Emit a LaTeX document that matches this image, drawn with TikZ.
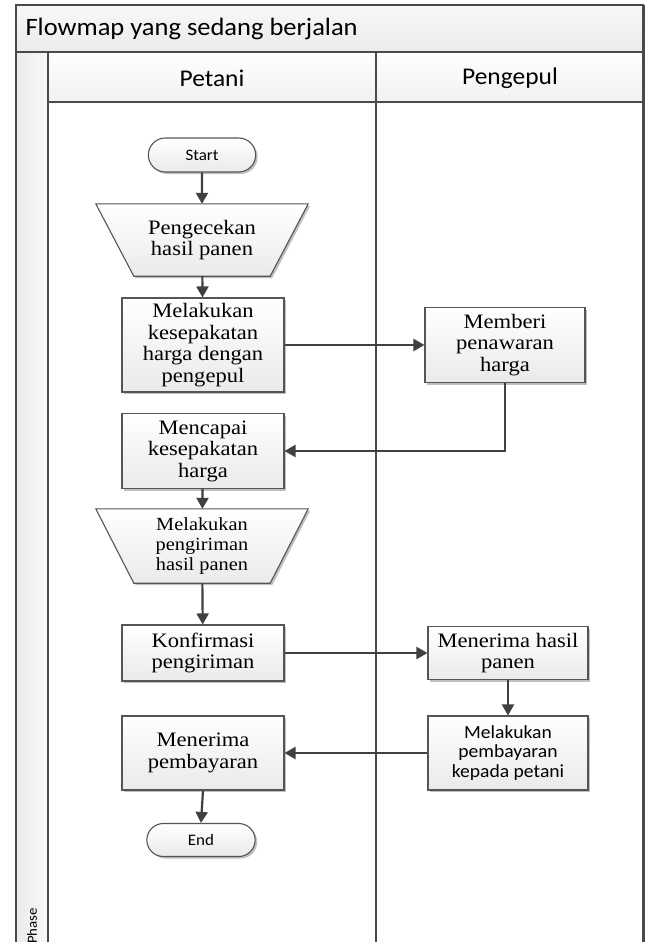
\documentclass[tikz,border=0pt]{standalone}
\usepackage{fontspec}
\setmainfont{Liberation Serif}[FakeStretch=1.1]
\newfontfamily\calib{Carlito}[FakeStretch=1.06]
\usetikzlibrary{shapes.misc,shadows,arrows.meta}

\definecolor{frameline}{HTML}{4A4A4A}
\definecolor{boxline}{HTML}{555555}
\definecolor{boxbot}{HTML}{EAEAEA}
\definecolor{bandtop}{HTML}{F8F8F8}
\definecolor{bandbot}{HTML}{EBEBEB}
\definecolor{arrowcol}{HTML}{404040}

\tikzset{
  boxshade/.style={draw=boxline, line width=1.1pt, top color=white, bottom color=boxbot,
    drop shadow={shadow xshift=2pt, shadow yshift=-2pt, opacity=0.25, fill=black}},
  proc/.style={boxshade, rectangle, align=center, inner sep=2pt,
    font=\fontsize{20.5}{21.5}\selectfont},
  sproc/.style={proc, font=\calib\fontsize{18.5}{19.5}\selectfont},
  term/.style={boxshade, rounded rectangle, minimum width=114pt, minimum height=34pt,
    font=\calib\fontsize{16}{17}\selectfont},
  holder/.style={rectangle, inner sep=0pt, align=center,
    font=\fontsize{20.5}{21.5}\selectfont},
  flow/.style={draw=arrowcol, line width=2.2pt,
    -{Triangle[length=11pt,width=12pt]}},
  lane/.style={draw=frameline, line width=1.6pt},
  band/.style={top color=bandtop, bottom color=bandbot, draw=frameline, line width=1.4pt},
}

\begin{document}
\begin{tikzpicture}[x=1pt,y=-1pt]
\useasboundingbox (0,0) rectangle (646,942);
\fill[white] (0,0) rectangle (646,942);

% pool header and lane headers
\path[band] (16,5) rectangle (643,52);
\path[band, top color=white, bottom color=bandbot!70] (48,52) rectangle (643,102);
\path[left color=bandbot, right color=bandtop, draw=frameline, line width=1.4pt]
  (16,52) rectangle (48,950);
\node[anchor=west, font=\calib\fontsize{25}{27}\selectfont] (pool) at (22,29) {Flowmap yang sedang berjalan};
\node[font=\calib\fontsize{24}{26}\selectfont] (lanea) at (212,78) {Petani};
\node[font=\calib\fontsize{24}{26}\selectfont] (laneb) at (510,78) {Pengepul};
\node[rotate=90, anchor=west, inner sep=0pt, font=\calib\fontsize{14}{15}\selectfont] (phase) at (32,944) {Phase};

% lane borders
\draw[lane] (376,52) -- (376,950);
\draw[frameline, line width=3pt] (643,5) -- (643,950);
\draw[frameline, line width=1.6pt] (16,5) -- (16,950);

% flow elements, Petani lane
\node[term] (start) at (202,155) {Start};

\node[holder, minimum width=212pt, minimum height=72pt] (cek) at (202,240) {};
\path[boxshade] (cek.north west) -- (cek.north east)
  -- ([xshift=-38pt]cek.south east) -- ([xshift=38pt]cek.south west) -- cycle;
\node[holder] at (cek) {Pengecekan\\hasil panen};

\node[proc, minimum width=162pt, minimum height=94pt] (sepakat) at (203,345)
  {Melakukan\\kesepakatan\\harga dengan\\pengepul};
\node[proc, minimum width=162pt, minimum height=75pt] (capai) at (203,451)
  {Mencapai\\kesepakatan\\harga};

\node[holder, minimum width=212pt, minimum height=74pt] (kirim) at (202,546) {};
\path[boxshade] (kirim.north west) -- (kirim.north east)
  -- ([xshift=-38pt]kirim.south east) -- ([xshift=38pt]kirim.south west) -- cycle;
\node[holder, font=\fontsize{18.5}{20}\selectfont] at (kirim) {Melakukan\\pengiriman\\hasil panen};

\node[proc, minimum width=162pt, minimum height=56pt] (konf) at (203,653)
  {Konfirmasi\\pengiriman};
\node[proc, minimum width=162pt, minimum height=74pt] (terbayar) at (203,753)
  {Menerima\\pembayaran};
\node[term, minimum width=115pt, minimum height=33pt] (end) at (201,840) {End};

% flow elements, Pengepul lane
\node[proc, minimum width=160pt, minimum height=75pt] (tawar) at (505,345)
  {Memberi\\penawaran\\harga};
\node[proc, minimum width=160pt, minimum height=53pt] (terima) at (508,653)
  {Menerima hasil\\panen};
\node[sproc, minimum width=160pt, minimum height=74pt] (bayar) at (508,753)
  {Melakukan\\pembayaran\\kepada petani};

% connectors
\draw[flow] (start) -- (cek);
\draw[flow] (cek) -- (sepakat);
\draw[flow] (sepakat) -- (tawar);
\draw[flow] (tawar.south) |- (capai.east);
\draw[flow] (capai) -- (kirim);
\draw[flow] (kirim) -- (konf);
\draw[flow] (konf) -- (terima);
\draw[flow] (terima) -- (bayar);
\draw[flow] (bayar) -- (terbayar);
\draw[flow] (terbayar.south) -- (end.north);
\end{tikzpicture}
\end{document}
